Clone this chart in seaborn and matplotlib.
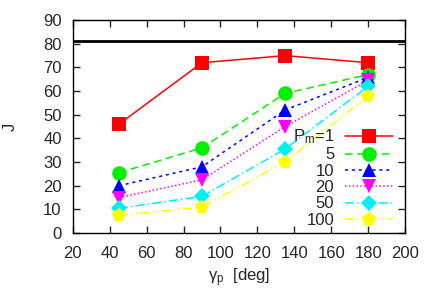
import matplotlib
matplotlib.use("Agg")
import matplotlib.pyplot as plt
import seaborn as sns
import pandas as pd

# Data
gamma_p = [45, 90, 135, 180]
pm_labels = ["$\\mathregular{P_m}$=1", "5", "10", "20", "50", "100"]
j_pm1 = [46, 72, 75, 72]
j_pm5 = [25.5, 36, 59, 67]
j_pm10 = [20, 28, 52, 65.8]
j_pm20 = [15, 22.5, 45, 64.5]
j_pm50 = [10.5, 15.5, 35.5, 62]
j_pm100 = [7.5, 11, 30, 58]
j_limit = 81

series = [j_pm1, j_pm5, j_pm10, j_pm20, j_pm50, j_pm100]
colors = ["#ff0000", "#00f000", "#0000ff", "#ff00ff", "#00f0f0", "#ffff00"]
markers = ["s", "o", "^", "v", "D", "p"]
dashes = ["-", (0, (5, 3)), (0, (2, 2.5)), (0, (1, 1.5)), (0, (6, 2, 1, 2)), (0, (6, 2, 1, 2, 1, 2))]
msizes = [10, 10.5, 9.5, 9.5, 8, 10.5]

sns.set_style("ticks")
plt.rcParams["font.family"] = ["Liberation Sans", "DejaVu Sans"]

fig = plt.figure(figsize=(4.36, 3.05), dpi=100)
ax = fig.add_axes([0.167, 0.236, 0.762, 0.698])

ax.axhline(j_limit, color="black", lw=2)

for vals, lab, c, m, d, ms in zip(series, pm_labels, colors, markers, dashes, msizes):
    df = pd.DataFrame({"gamma": gamma_p, "J": vals})
    sns.lineplot(data=df, x="gamma", y="J", ax=ax, color=c, marker=m, markersize=ms,
                 markeredgewidth=0, linestyle=d, lw=1.1, label=lab)

ax.set_xlim(20, 200)
ax.set_ylim(0, 90)
ax.set_xticks(range(20, 201, 20))
ax.set_yticks(range(0, 91, 10))
ax.tick_params(direction="in", length=5, width=1, top=True, right=True, labelsize=12)
ax.tick_params(axis="x", pad=9)
ax.tick_params(axis="y", pad=8)
for s in ax.spines.values():
    s.set_linewidth(1)
    s.set_color("black")

ax.set_xlabel("$\\mathregular{\\gamma_p}$  [deg]", fontsize=12, labelpad=4)
ax.set_ylabel("J", fontsize=12, labelpad=18)

leg = ax.legend(loc="lower right", bbox_to_anchor=(1.0, -0.03), frameon=False, markerfirst=False,
                fontsize=12, handlelength=2.9, labelspacing=0.08, handletextpad=0.65, borderpad=0.2)

fig.savefig("out.png", dpi=100)
